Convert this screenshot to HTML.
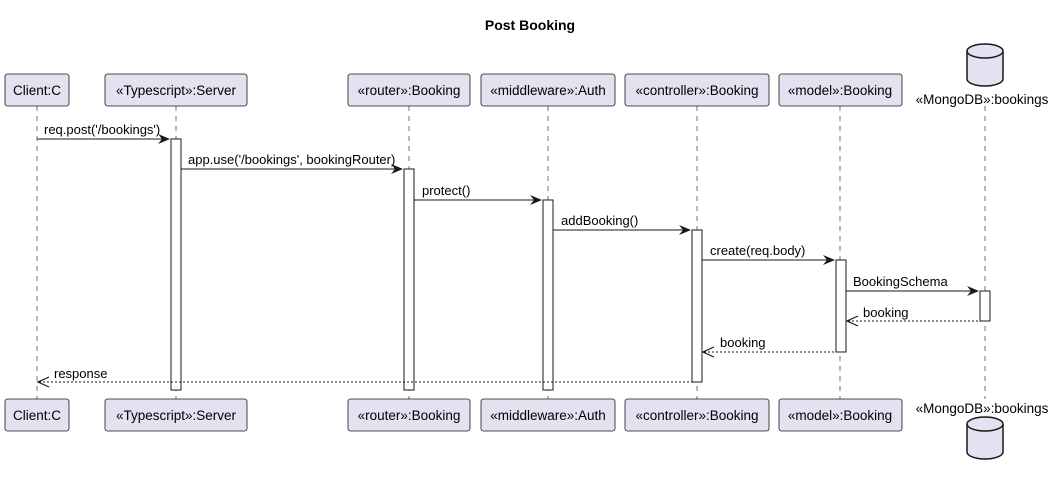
<!DOCTYPE html>
<html><head><style>body{margin:0;background:#fff}</style></head><body>
<svg width="1057" height="478" xmlns="http://www.w3.org/2000/svg" font-family="Liberation Sans, sans-serif">
<rect width="1057" height="478" fill="#fff"/>
<text x="530" y="30" font-size="14" font-weight="bold" text-anchor="middle">Post Booking</text>
<g stroke="#181818" stroke-width="0.6" stroke-dasharray="5,5">
<line x1="37" y1="106" x2="37" y2="399"/><line x1="176" y1="106" x2="176" y2="399"/>
<line x1="409" y1="106" x2="409" y2="399"/><line x1="548" y1="106" x2="548" y2="399"/>
<line x1="697" y1="106" x2="697" y2="399"/><line x1="840" y1="106" x2="840" y2="399"/>
<line x1="985" y1="106" x2="985" y2="399"/>
</g>
<g fill="#E2E2F0" stroke="#181818" stroke-width="0.8">
<rect x="5" y="74" width="64" height="32" rx="2.5"/><rect x="105" y="74" width="142" height="32" rx="2.5"/>
<rect x="348" y="74" width="122" height="32" rx="2.5"/><rect x="481" y="74" width="134" height="32" rx="2.5"/>
<rect x="625" y="74" width="144" height="32" rx="2.5"/><rect x="779" y="74" width="123" height="32" rx="2.5"/>
<rect x="5" y="399" width="64" height="32" rx="2.5"/><rect x="105" y="399" width="142" height="32" rx="2.5"/>
<rect x="348" y="399" width="122" height="32" rx="2.5"/><rect x="481" y="399" width="134" height="32" rx="2.5"/>
<rect x="625" y="399" width="144" height="32" rx="2.5"/><rect x="779" y="399" width="123" height="32" rx="2.5"/>
</g>
<g fill="#E2E2F0" stroke="#181818" stroke-width="1.5">
<path d="M967,51 a18,7 0 0 1 36,0 v28 a18,7 0 0 1 -36,0 z"/><path d="M967,51 a18,7 0 0 0 36,0"/>
<path d="M967,424 a18,7 0 0 1 36,0 v28 a18,7 0 0 1 -36,0 z"/><path d="M967,424 a18,7 0 0 0 36,0"/>
</g>
<g font-size="13.5" fill="#000" text-anchor="middle">
<text x="37" y="95">Client:C</text><text x="176" y="95">«Typescript»:Server</text>
<text x="409" y="95">«router»:Booking</text><text x="548" y="95">«middleware»:Auth</text>
<text x="697" y="95">«controller»:Booking</text><text x="840" y="95">«model»:Booking</text>
<text x="982" y="104">«MongoDB»:bookings</text>
<text x="37" y="420">Client:C</text><text x="176" y="420">«Typescript»:Server</text>
<text x="409" y="420">«router»:Booking</text><text x="548" y="420">«middleware»:Auth</text>
<text x="697" y="420">«controller»:Booking</text><text x="840" y="420">«model»:Booking</text>
<text x="982" y="413">«MongoDB»:bookings</text>
</g>
<g fill="#fff" stroke="#181818" stroke-width="1">
<rect x="171" y="139" width="10" height="251"/><rect x="404" y="169" width="10" height="221"/>
<rect x="543" y="200" width="10" height="190"/><rect x="692" y="230" width="10" height="152"/>
<rect x="836" y="260" width="10" height="92"/><rect x="980" y="291" width="10" height="30"/>
</g>
<g stroke="#181818" stroke-width="1">
<line x1="37" y1="139" x2="169" y2="139"/><line x1="181" y1="169" x2="402" y2="169"/>
<line x1="414" y1="200" x2="541" y2="200"/><line x1="553" y1="230" x2="690" y2="230"/>
<line x1="702" y1="260" x2="834" y2="260"/><line x1="846" y1="291" x2="978" y2="291"/>
<g stroke-dasharray="2,2"><line x1="848" y1="321" x2="980" y2="321"/><line x1="704" y1="352" x2="836" y2="352"/><line x1="39" y1="382" x2="692" y2="382"/></g>
</g>
<g fill="#181818">
<path d="M170,139 l-12,-5 l4,5 l-4,5z"/><path d="M403,169 l-12,-5 l4,5 l-4,5z"/>
<path d="M542,200 l-12,-5 l4,5 l-4,5z"/><path d="M691,230 l-12,-5 l4,5 l-4,5z"/>
<path d="M835,260 l-12,-5 l4,5 l-4,5z"/><path d="M979,291 l-12,-5 l4,5 l-4,5z"/>
</g>
<g stroke="#181818" fill="none" stroke-width="1.2">
<path d="M858,316 l-11,5 l11,5"/><path d="M714,347 l-11,5 l11,5"/><path d="M49,377 l-11,5 l11,5"/>
</g>
<g font-size="13" fill="#000">
<text x="44" y="134">req.post('/bookings')</text><text x="188" y="164">app.use('/bookings', bookingRouter)</text>
<text x="422" y="195">protect()</text><text x="561" y="225">addBooking()</text>
<text x="710" y="255">create(req.body)</text><text x="853" y="286">BookingSchema</text>
<text x="863" y="317">booking</text><text x="720" y="347">booking</text><text x="54" y="378">response</text>
</g>
</svg>
</body></html>
